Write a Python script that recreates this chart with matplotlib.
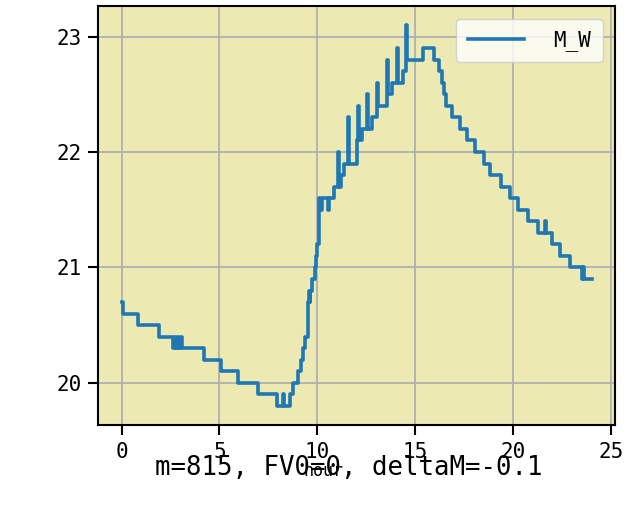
import matplotlib
matplotlib.use("Agg")
import matplotlib.pyplot as plt

plt.rcParams['font.family'] = ['DejaVu Sans Mono', 'DejaVu Sans']

# step breakpoints (hour, M_W)
hours = [0.0, 0.1, 0.86, 1.9, 2.65, 2.72, 2.8, 2.88, 2.95, 3.02, 3.1,
         4.2, 5.1, 5.95, 6.95, 7.95, 8.25, 8.3, 8.59, 8.74, 9.0, 9.18,
         9.25, 9.35, 9.5, 9.55, 9.6, 9.64, 9.72, 9.88, 9.95, 10.0, 10.06,
         10.16, 10.22, 10.55, 10.62, 10.85, 11.07, 11.11, 11.2, 11.36,
         11.58, 11.62, 12.04, 12.09, 12.13, 12.3, 12.55, 12.59, 12.8,
         13.05, 13.09, 13.56, 13.6, 13.8, 14.07, 14.11, 14.35, 14.55,
         14.59, 15.4, 15.96, 16.21, 16.38, 16.46, 16.55, 16.89, 17.31,
         17.65, 18.07, 18.5, 18.84, 19.4, 19.85, 20.27, 20.78, 21.29,
         21.6, 21.68, 21.97, 22.39, 22.9, 23.49, 23.58, 23.63, 24.0]
m_w = [20.7, 20.6, 20.5, 20.4, 20.3, 20.4, 20.3, 20.4, 20.3, 20.4, 20.3,
       20.2, 20.1, 20.0, 19.9, 19.8, 19.9, 19.8, 19.9, 20.0, 20.1, 20.2,
       20.3, 20.4, 20.7, 20.8, 20.7, 20.8, 20.9, 21.0, 21.1, 21.2, 21.6,
       21.5, 21.6, 21.5, 21.6, 21.7, 22.0, 21.7, 21.8, 21.9,
       22.3, 21.9, 22.1, 22.4, 22.1, 22.2, 22.5, 22.2, 22.3,
       22.6, 22.4, 22.8, 22.5, 22.6, 22.9, 22.6, 22.7, 23.1,
       22.8, 22.9, 22.8, 22.7, 22.6, 22.5, 22.4, 22.3, 22.2,
       22.1, 22.0, 21.9, 21.8, 21.7, 21.6, 21.5, 21.4, 21.3,
       21.4, 21.3, 21.2, 21.1, 21.0, 20.9, 21.0, 20.9, 20.9]

x_ticks = [0, 5, 10, 15, 20, 25]
y_ticks = [20, 21, 22, 23]
series_label = "M_W"
x_label = "hour"
note = "m=815, FV0=0, deltaM=-0.1"

W, H = 643, 505
fig = plt.figure(figsize=(W / 100, H / 100), dpi=100)
ax = fig.add_axes([98 / W, 80 / H, 517 / W, 419 / H])
ax.set_facecolor('#ECE9B3')

ax.plot(hours, m_w, drawstyle='steps-post', color='#1f77b4', lw=2.6,
        label=series_label, solid_joinstyle='round')

ax.set_xticks(x_ticks)
ax.set_yticks(y_ticks)
ax.grid(True, color='#b0b0b0', lw=1.3)
ax.set_axisbelow(True)
ax.tick_params(labelsize=15, length=7, width=1.5, pad=5)
for sp in ax.spines.values():
    sp.set_linewidth(1.5)

ax.set_xlabel(x_label, fontsize=12)
ax.xaxis.set_label_coords((323 - 98) / 517, -0.088)

ax.legend(loc='upper right', fontsize=15, handlelength=2.7,
          handletextpad=1.4, borderaxespad=0.6, borderpad=0.55)

fig.text(155 / W, 1 - 475 / H, note, ha='left', va='baseline', fontsize=18.5)

fig.savefig('out.png', dpi=100)
